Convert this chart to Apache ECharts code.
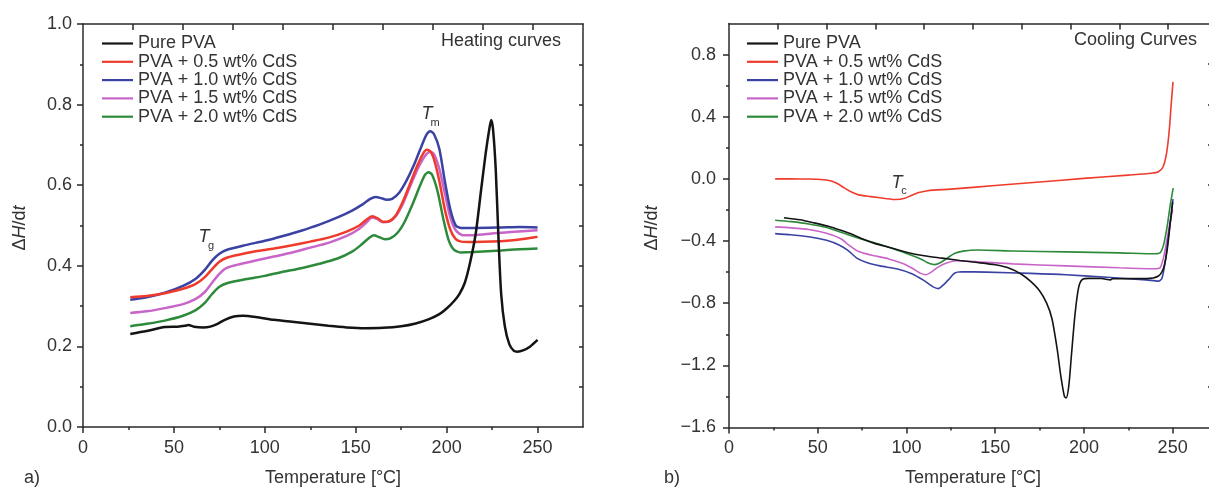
<!DOCTYPE html>
<html>
<head>
<meta charset="utf-8">
<script src="https://cdn.jsdelivr.net/npm/echarts@6/dist/echarts.min.js"></script>
<style>
    html,body{margin:0;padding:0;background:#fff;}
    #chart{width:1209px;height:490px;}
</style>
</head>
<body>
<div id="chart"></div>
<script>
// legend names, same order for both panels
const seriesNames = ['Pure PVA', 'PVA + 0.5 wt% CdS', 'PVA + 1.0 wt% CdS', 'PVA + 1.5 wt% CdS', 'PVA + 2.0 wt% CdS'];
const seriesColors = ['#141414', '#ee3b2b', '#3a42a3', '#c965c9', '#2e8a3b'];

// a) heating curves  [temperature, dH/dt]
const heatPure = [[26,0.231],[35,0.238],[45,0.248],[52,0.249],[56,0.251],[58,0.253],[61,0.249],[66,0.247],[70,0.249],[74,0.256],[78,0.266],[83,0.274],[88,0.276],[95,0.273],[105,0.266],[115,0.261],[125,0.256],[135,0.251],[145,0.247],[155,0.245],[165,0.246],[175,0.25],[183,0.257],[190,0.267],[196,0.28],[200,0.294],[204,0.312],[207,0.33],[210,0.358],[213,0.41],[216,0.48],[219,0.59],[221.5,0.68],[223.5,0.74],[224.5,0.762],[225.5,0.74],[227,0.64],[228.5,0.47],[230,0.33],[232,0.25],[234.5,0.205],[237,0.189],[239,0.187],[242,0.19],[246,0.2],[250,0.216]];
const heatCdS05 = [[26,0.322],[35,0.325],[45,0.332],[55,0.343],[62,0.355],[67,0.372],[71,0.392],[75,0.41],[79,0.42],[85,0.427],[95,0.436],[105,0.443],[115,0.451],[125,0.46],[135,0.47],[145,0.485],[152,0.5],[156,0.515],[159,0.523],[162,0.518],[165,0.509],[168,0.51],[172,0.525],[176,0.56],[180,0.605],[184,0.65],[187,0.678],[189,0.688],[191,0.684],[193,0.665],[196,0.61],[199,0.54],[202,0.49],[205,0.466],[208,0.46],[215,0.459],[225,0.46],[235,0.463],[243,0.467],[250,0.472]];
const heatCdS10 = [[26,0.316],[35,0.322],[45,0.333],[55,0.35],[62,0.368],[67,0.39],[71,0.413],[75,0.43],[80,0.441],[90,0.452],[100,0.462],[110,0.474],[120,0.487],[130,0.502],[140,0.52],[148,0.537],[154,0.553],[158,0.566],[161,0.571],[164,0.568],[167,0.564],[170,0.566],[174,0.582],[178,0.612],[182,0.65],[186,0.695],[189,0.726],[191,0.734],[193,0.727],[196,0.69],[199,0.61],[202,0.54],[205,0.5],[208,0.494],[215,0.494],[230,0.495],[240,0.496],[250,0.495]];
const heatCdS15 = [[26,0.283],[35,0.287],[45,0.295],[55,0.305],[62,0.318],[67,0.335],[71,0.358],[75,0.38],[79,0.395],[85,0.403],[95,0.413],[105,0.423],[115,0.433],[125,0.445],[135,0.457],[145,0.474],[152,0.492],[156,0.508],[159,0.52],[162,0.516],[165,0.508],[168,0.509],[172,0.523],[176,0.555],[180,0.598],[184,0.64],[188,0.672],[191,0.683],[193,0.677],[196,0.64],[199,0.58],[202,0.52],[205,0.488],[209,0.476],[215,0.476],[225,0.48],[235,0.484],[250,0.488]];
const heatCdS20 = [[26,0.25],[35,0.256],[45,0.264],[55,0.276],[62,0.29],[67,0.308],[71,0.33],[75,0.348],[80,0.358],[90,0.367],[100,0.375],[110,0.385],[120,0.394],[130,0.405],[140,0.418],[148,0.435],[153,0.452],[157,0.468],[160,0.476],[163,0.471],[166,0.466],[169,0.468],[173,0.482],[177,0.51],[181,0.55],[185,0.595],[188,0.625],[190,0.632],[192,0.626],[195,0.585],[198,0.52],[201,0.465],[204,0.44],[208,0.433],[215,0.434],[230,0.438],[240,0.441],[250,0.443]];

// b) cooling curves
const coolPure = [[31,-0.25],[40,-0.263],[48,-0.283],[56,-0.305],[63,-0.331],[70,-0.36],[76,-0.39],[82,-0.415],[90,-0.44],[100,-0.472],[110,-0.495],[120,-0.51],[130,-0.525],[140,-0.538],[150,-0.553],[158,-0.575],[165,-0.615],[170,-0.66],[175,-0.72],[179,-0.8],[182,-0.9],[185,-1.1],[187,-1.27],[189,-1.4],[190,-1.41],[191.5,-1.33],[193,-1.13],[195,-0.87],[197,-0.7],[199,-0.648],[203,-0.64],[210,-0.641],[215,-0.65],[216,-0.643],[225,-0.642],[235,-0.642],[242,-0.625],[245,-0.57],[247,-0.45],[248.5,-0.3],[250,-0.15]];
const coolCdS05 = [[26,0.0],[35,0.0],[45,-0.001],[52,-0.004],[57,-0.012],[61,-0.03],[65,-0.058],[69,-0.085],[73,-0.103],[80,-0.114],[88,-0.126],[94,-0.133],[99,-0.125],[103,-0.105],[107,-0.088],[112,-0.076],[125,-0.066],[150,-0.043],[175,-0.02],[200,0.003],[225,0.024],[238,0.036],[242,0.046],[244.5,0.075],[246.5,0.16],[248,0.3],[249.2,0.48],[250.2,0.624]];
const coolCdS10 = [[26,-0.352],[35,-0.36],[45,-0.372],[55,-0.395],[62,-0.425],[67,-0.46],[72,-0.51],[78,-0.54],[85,-0.56],[95,-0.58],[103,-0.61],[110,-0.655],[115,-0.695],[118,-0.706],[121,-0.68],[124,-0.645],[127,-0.607],[131,-0.598],[145,-0.6],[170,-0.608],[190,-0.617],[215,-0.635],[235,-0.65],[242,-0.658],[244,-0.64],[246,-0.52],[247.5,-0.38],[249,-0.25],[250.2,-0.13]];
const coolCdS15 = [[26,-0.309],[35,-0.315],[45,-0.326],[55,-0.35],[63,-0.385],[68,-0.43],[73,-0.468],[80,-0.49],[90,-0.515],[98,-0.545],[104,-0.58],[108,-0.608],[111,-0.617],[114,-0.6],[118,-0.566],[123,-0.54],[128,-0.527],[140,-0.533],[160,-0.547],[190,-0.56],[220,-0.572],[240,-0.578],[243,-0.57],[245,-0.5],[247,-0.38],[248.5,-0.28],[250,-0.2]];
const coolCdS20 = [[26,-0.266],[35,-0.275],[45,-0.29],[55,-0.313],[63,-0.343],[70,-0.37],[80,-0.405],[90,-0.44],[100,-0.48],[108,-0.515],[113,-0.545],[116,-0.552],[119,-0.54],[123,-0.51],[127,-0.48],[132,-0.465],[140,-0.458],[160,-0.464],[190,-0.47],[220,-0.476],[240,-0.482],[243,-0.475],[245,-0.42],[247,-0.3],[248.5,-0.18],[250.3,-0.06]];

// tick positions
const tempTicks = [0, 50, 100, 150, 200, 250];
const tempMinorTicks = [25, 75, 125, 175, 225];
const tempTopTicks = [27.5, 55, 82.5, 110, 137.5, 165, 192.5, 220, 247.5];
const heatTicks = [0, 0.2, 0.4, 0.6, 0.8, 1.0];
const heatMinorTicks = [0.1, 0.3, 0.5, 0.7, 0.9];
const heatRightTicks = [0.1, 0.2, 0.3, 0.4, 0.5, 0.6, 0.7, 0.8, 0.9];
const coolTicks = [-1.6, -1.2, -0.8, -0.4, 0, 0.4, 0.8];
const coolMinorTicks = [-1.4, -1.0, -0.6, -0.2, 0.2, 0.6];
const coolRightTicks = [-1.34, -1.08, -0.82, -0.56, -0.30, -0.04, 0.22, 0.48, 0.74];

const heatData = [heatPure, heatCdS05, heatCdS10, heatCdS15, heatCdS20];
const coolData = [coolPure, coolCdS05, coolCdS10, coolCdS15, coolCdS20];

const fontFamily = '"Liberation Sans", Arial, Helvetica, sans-serif';
const textColor = '#333';
const axisColor = '#2a2a2a';

let chart = echarts.init(document.getElementById('chart'), null, {renderer: 'canvas'});

// main axis (line + labels + major ticks)
function mainAxis(gridIndex, position, min, max, ticks, opts){
    return Object.assign({
        type: 'value',
        gridIndex: gridIndex,
        position: position,
        min: min,
        max: max,
        axisLine: {show: true, onZero: false, lineStyle: {color: axisColor, width: 1.5}},
        axisTick: {show: true, inside: false, length: 6, customValues: ticks, lineStyle: {color: axisColor, width: 1.5}},
        axisLabel: {show: true, customValues: ticks, color: textColor, fontSize: 18, fontFamily: fontFamily},
        splitLine: {show: false}
    }, opts || {});
}
// extra tick-only axis (minor ticks, mirror frame)
function tickAxis(gridIndex, position, min, max, ticks, len, inside, showLine){
    return {
        type: 'value',
        gridIndex: gridIndex,
        position: position,
        min: min,
        max: max,
        axisLine: {show: showLine, onZero: false, lineStyle: {color: axisColor, width: 1.5}},
        axisTick: {show: true, inside: inside, length: len, customValues: ticks, lineStyle: {color: axisColor, width: 1.5}},
        axisLabel: {show: false},
        splitLine: {show: false}
    };
}

const fmtCool = v => (v < -1e-9 ? '\u2212' : '') + Math.abs(v).toFixed(1);

let series = [];
seriesNames.forEach((name, i) => {
    series.push({
        name: name, type: 'line', xAxisIndex: 0, yAxisIndex: 0,
        showSymbol: false, smooth: 0.25, z: 5 - i,
        itemStyle: {color: seriesColors[i]},
        lineStyle: {color: seriesColors[i], width: 2.5},
        data: heatData[i]
    });
});
seriesNames.forEach((name, i) => {
    series.push({
        name: name, type: 'line', xAxisIndex: 3, yAxisIndex: 3,
        showSymbol: false, smooth: 0.25, z: 5 - i,
        itemStyle: {color: seriesColors[i]},
        lineStyle: {color: seriesColors[i], width: 1.6},
        data: coolData[i]
    });
});

const legendBase = {
    orient: 'vertical',
    top: 29.5,
    icon: 'rect',
    itemWidth: 31,
    itemHeight: 2.2,
    itemGap: 0.3,
    selectedMode: false,
    data: seriesNames,
    textStyle: {fontSize: 18, lineHeight: 18, color: textColor, fontFamily: fontFamily}
};

// helper for plain annotation text
function label(x, y, text, size, align, italic){
    return {
        type: 'text', x: x, y: y, silent: true,
        style: {
            text: text, fill: textColor, fontSize: size, fontFamily: fontFamily,
            fontStyle: italic ? 'italic' : 'normal',
            align: align || 'left', verticalAlign: 'middle'
        }
    };
}
function yName(x, y){
    return {
        type: 'text', x: x, y: y, rotation: Math.PI / 2, silent: true,
        style: {
            text: '{n|\u0394}{i|H}{n|/d}{i|t}',
            fill: textColor, fontSize: 18, fontFamily: fontFamily,
            align: 'center', verticalAlign: 'middle',
            rich: {
                n: {fontSize: 18, fontFamily: fontFamily, fill: textColor},
                i: {fontSize: 18, fontFamily: fontFamily, fill: textColor, fontStyle: 'italic'}
            }
        }
    };
}

let option = {
    animation: false,
    backgroundColor: '#fff',
    grid: [
        {left: 83, top: 24, width: 500, height: 403, outerBoundsMode: 'none'},
        {left: 83, top: 24, width: 500, height: 403, outerBoundsMode: 'none'},
        {left: 729, top: 23.5, width: 488, height: 404, outerBoundsMode: 'none'},
        {left: 729, top: 23.5, width: 488, height: 404, outerBoundsMode: 'none'}
    ],
    xAxis: [
        mainAxis(0, 'bottom', 0, 275, tempTicks, {
            name: 'Temperature [\u00b0C]', nameLocation: 'middle', nameGap: 42,
            nameTextStyle: {fontSize: 18, color: textColor, fontFamily: fontFamily}
        }),
        tickAxis(1, 'top', 0, 275, tempTopTicks, 6, true, true),
        tickAxis(1, 'bottom', 0, 275, tempMinorTicks, 3, false, false),
        mainAxis(2, 'bottom', 0, 275, tempTicks, {
            name: 'Temperature [\u00b0C]', nameLocation: 'middle', nameGap: 42,
            nameTextStyle: {fontSize: 18, color: textColor, fontFamily: fontFamily}
        }),
        tickAxis(3, 'top', 0, 275, tempTopTicks, 6, true, true),
        tickAxis(3, 'bottom', 0, 275, tempMinorTicks, 3, false, false)
    ],
    yAxis: [
        mainAxis(0, 'left', 0, 1, heatTicks, {}),
        tickAxis(1, 'right', 0, 1, heatRightTicks, 4, true, true),
        tickAxis(1, 'left', 0, 1, heatMinorTicks, 3, false, false),
        mainAxis(2, 'left', -1.6, 1.0, coolTicks, {}),
        tickAxis(3, 'right', -1.6, 1.0, coolRightTicks, 9, true, true),
        tickAxis(3, 'left', -1.6, 1.0, coolMinorTicks, 3, false, false)
    ],
    legend: [
        Object.assign({left: 97}, legendBase),
        Object.assign({left: 742}, legendBase)
    ],
    series: series,
    graphic: [
        label(561, 41, 'Heating curves', 18, 'right'),
        label(1197, 40, 'Cooling Curves', 18, 'right'),
        label(24, 478, 'a)', 18, 'left'),
        label(664, 478, 'b)', 18, 'left'),
        // transition labels
        label(204, 237, 'T', 18, 'center', true),
        label(211, 246, 'g', 11, 'center'),
        label(427, 114, 'T', 18, 'center', true),
        label(435, 123, 'm', 11, 'center'),
        label(897, 183, 'T', 18, 'center', true),
        label(904, 191, 'c', 11, 'center'),
        yName(20, 228),
        yName(652, 228)
    ]
};
option.yAxis[0].axisLabel.formatter = v => v.toFixed(1);
option.yAxis[0].axisLabel.margin = 11;
option.yAxis[3].axisLabel.formatter = fmtCool;
option.yAxis[3].axisLabel.margin = 13;
option.xAxis[0].axisLabel.margin = 12;
option.xAxis[3].axisLabel.margin = 12;

chart.setOption(option);
</script>
</body>
</html>
